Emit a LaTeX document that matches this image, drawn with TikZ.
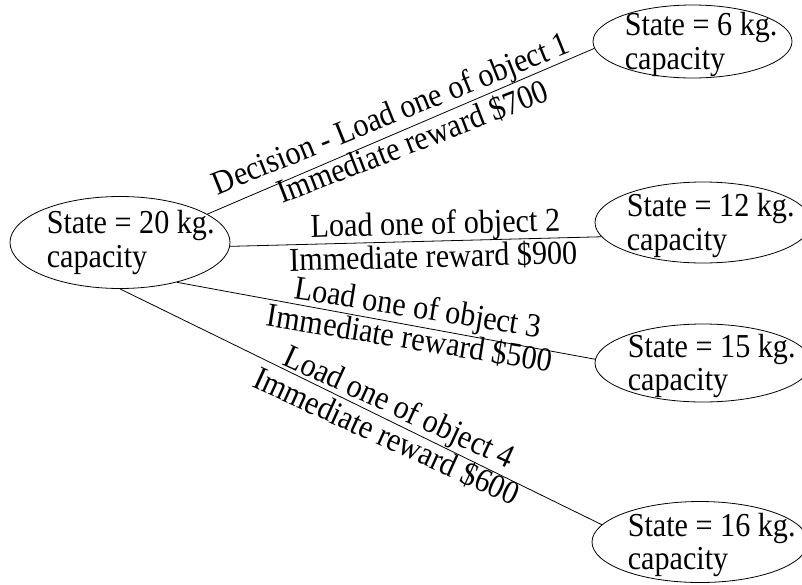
\documentclass[tikz,border=0pt]{standalone}
\usepackage{fontspec}
\setmainfont{Liberation Serif}[FakeStretch=0.9]
\usetikzlibrary{shapes.geometric}

\begin{document}
\begin{tikzpicture}[x=1pt, y=-1pt,
  statebox/.style={draw, ellipse, line width=0.8pt, inner sep=0pt},
  statetext/.style={anchor=west, inner sep=0pt, align=left,
    font=\fontsize{33.5}{33.3}\selectfont},
  branch/.style={line width=0.8pt},
  edgetext/.style={sloped, anchor=base, inner sep=0pt,
    font=\fontsize{33.5}{33.3}\selectfont}]
\useasboundingbox (0,0) rectangle (802,584);
\clip (0,0) rectangle (802,584);

% states
\node[statebox, minimum width=220pt, minimum height=92pt] (s20) at (120,242.5) {};
\node[statebox, minimum width=199pt, minimum height=73pt] (s6)  at (692.5,41.5) {};
\node[statebox, minimum width=216pt, minimum height=81pt] (s12) at (703,222.5) {};
\node[statebox, minimum width=216pt, minimum height=78pt] (s15) at (703,363) {};
\node[statebox, minimum width=216pt, minimum height=81pt] (s16) at (700,542) {};

\node[statetext] (t20) at ([xshift=37pt]s20.west) {State = 20 kg.\\capacity};
\node[statetext, yshift=-3pt] (t6)  at ([xshift=32pt]s6.west)  {State = 6 kg.\\capacity};
\node[statetext, yshift=-3pt] (t12) at ([xshift=32pt]s12.west) {State = 12 kg.\\capacity};
\node[statetext, yshift=-3pt] (t15) at ([xshift=33pt]s15.west) {State = 15 kg.\\capacity};
\node[statetext, yshift=-3pt] (t16) at ([xshift=36pt]s16.west) {State = 16 kg.\\capacity};

% decisions
\draw[branch] (s20.18) -- (s6.184)
  node[edgetext, pos=.494, yshift=9.4pt, rotate=-1.2] (d1) {Decision - Load one of object 1}
  node[edgetext, pos=.515, yshift=-25.2pt, rotate=-2] (r1) {Immediate reward \$700};
\draw[branch] (s20.-2) -- (s12.188)
  node[edgetext, pos=.554, yshift=6.9pt] (d2) {Load one of object 2}
  node[edgetext, pos=.546, yshift=-26.4pt] (r2) {Immediate reward \$900};
\draw[branch] (s20.-35) -- (s15.178)
  node[edgetext, pos=.569, yshift=8.2pt, rotate=1.3] (d3) {Load one of object 3}
  node[edgetext, pos=.563, yshift=-23.7pt, rotate=1.2] (r3) {Immediate reward \$500};
\draw[branch] (s20.-90) -- (s16.170)
  node[edgetext, pos=.565, yshift=6.3pt, rotate=1.4] (d4) {Load one of object 4}
  node[edgetext, pos=.568, yshift=-26.2pt, rotate=1.6] (r4) {Immediate reward \$600};
\end{tikzpicture}
\end{document}
